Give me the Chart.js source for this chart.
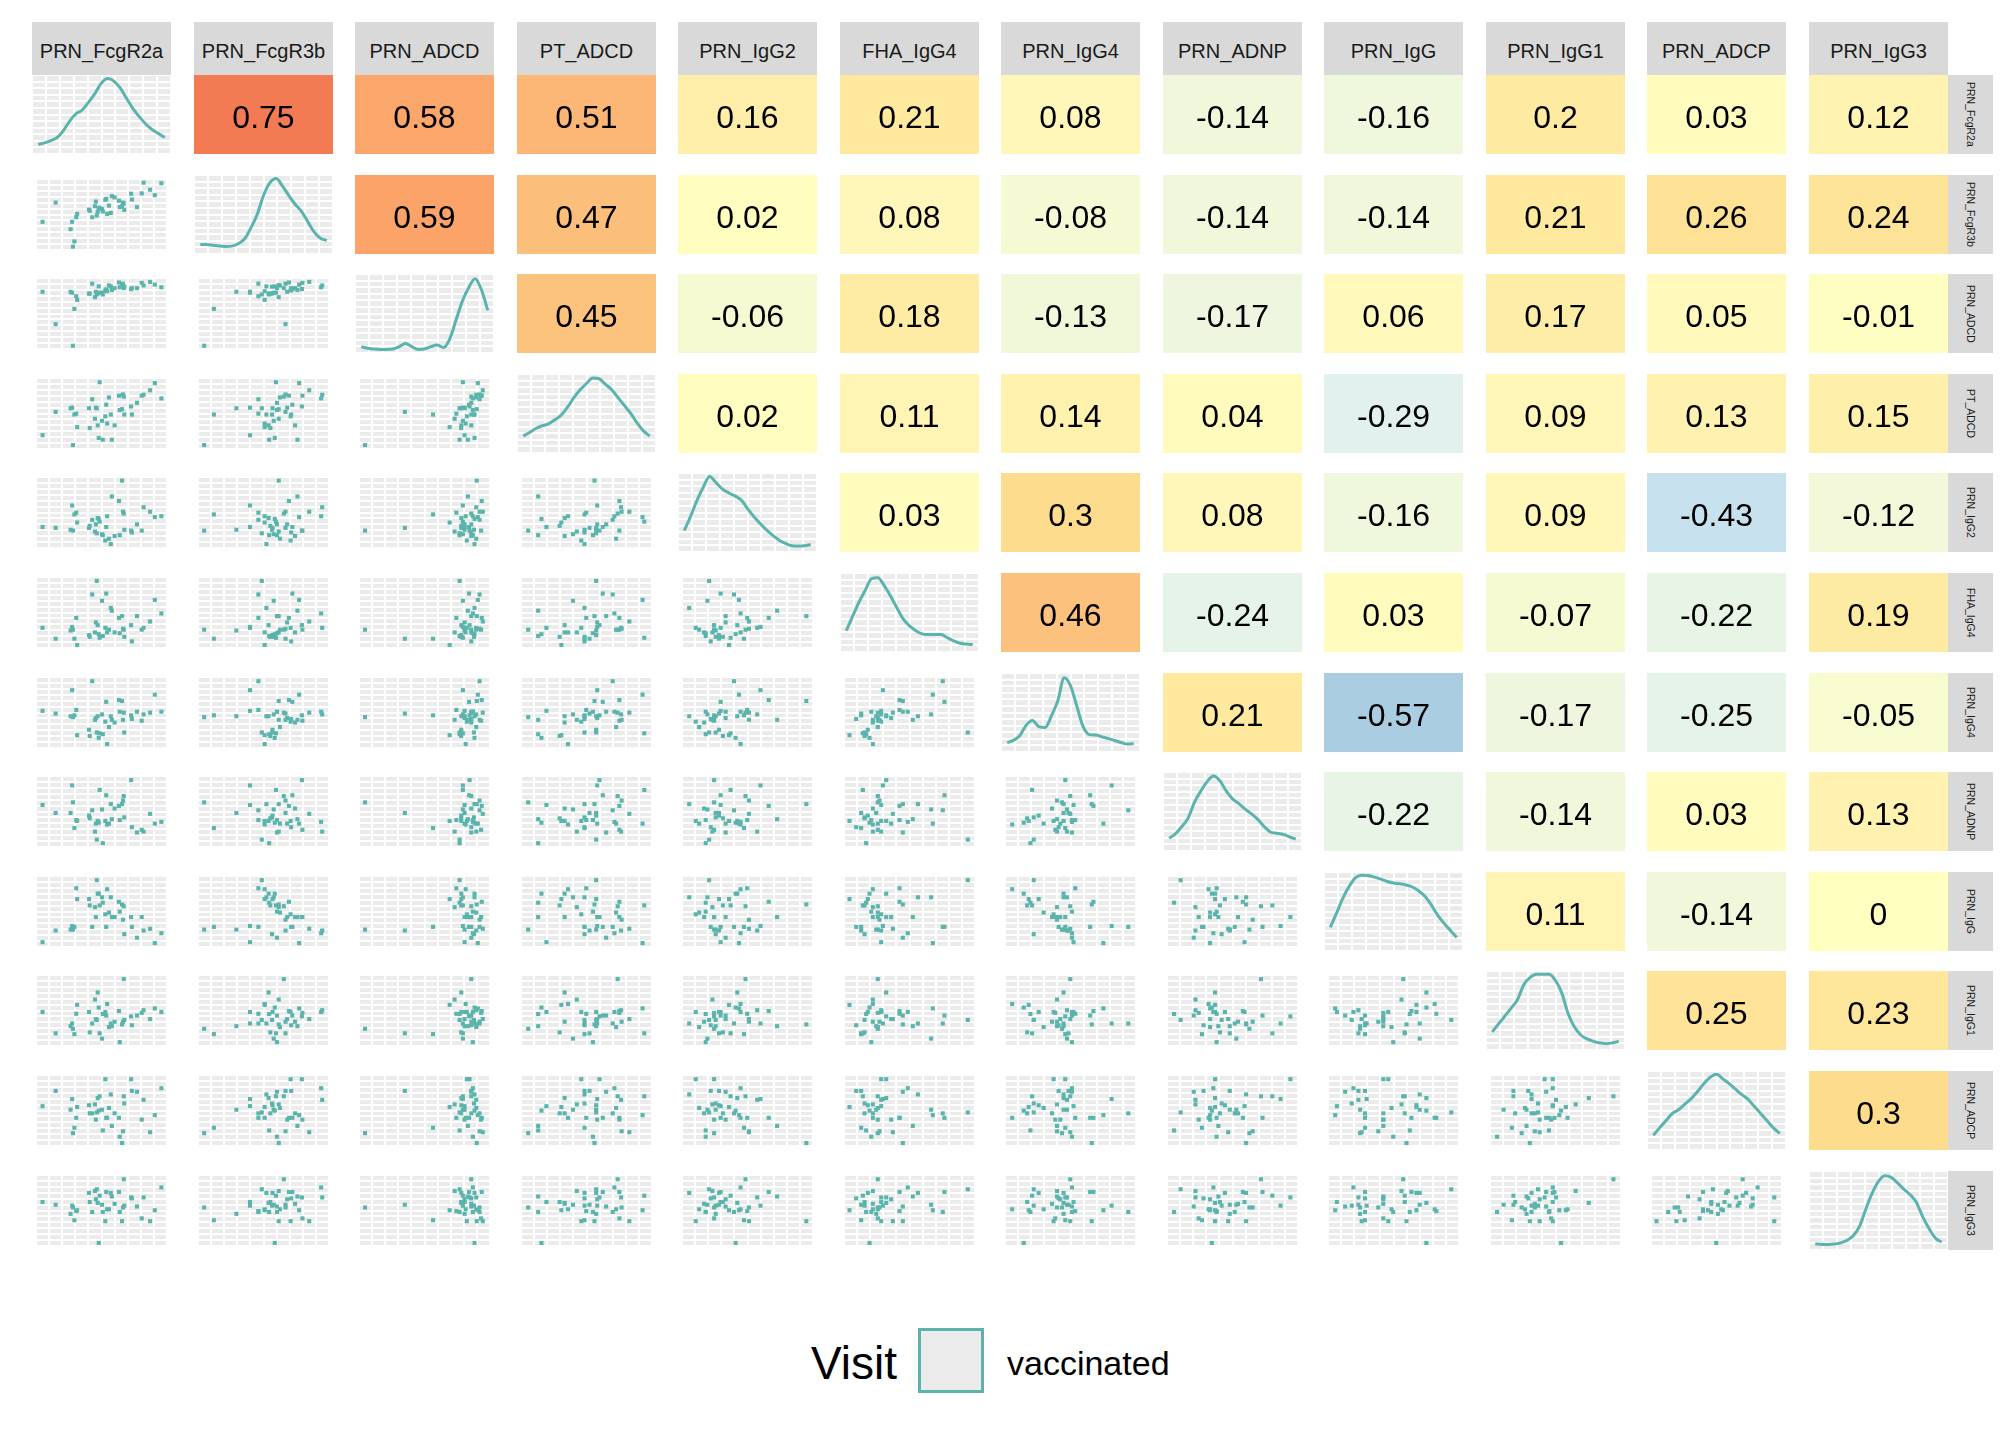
<!DOCTYPE html>
<html>
<head>
<meta charset="utf-8">
<script src="https://cdn.jsdelivr.net/npm/chart.js@4.4.1/dist/chart.umd.min.js"></script>
<style>
  body { margin: 0; background: #fff; font-family: "Liberation Sans", Arial, sans-serif; }
  #wrap { position: relative; width: 2016px; height: 1440px; overflow: hidden; background: #fff; }
  .cell { position: absolute; }
  .strip-top { position: absolute; background: #D9D9D9; color: #1A1A1A; font-size: 20px; box-sizing: border-box;
    padding-top: 6px; display: flex; align-items: center; justify-content: center; }
  .strip-right { position: absolute; background: #D9D9D9; color: #1A1A1A; font-size: 10.5px;
    display: flex; align-items: center; justify-content: center; }
  .strip-right span { writing-mode: vertical-rl; }
  .legend-title { position: absolute; left: 811px; top: 1335px; font-size: 46px; color: #000; line-height: 56px; }
  .legend-key { position: absolute; left: 918px; top: 1328px; width: 66px; height: 65px;
    box-sizing: border-box; border: 3px solid #5AB4AC; background: #EBEBEB; }
  .legend-label { position: absolute; left: 1007px; top: 1342px; font-size: 34px; color: #000; line-height: 42px; }
</style>
</head>
<body>
<div id="wrap"></div>
<script>
// variable names, in panel order
const variables = ["PRN_FcgR2a", "PRN_FcgR3b", "PRN_ADCD", "PT_ADCD", "PRN_IgG2", "FHA_IgG4",
  "PRN_IgG4", "PRN_ADNP", "PRN_IgG", "PRN_IgG1", "PRN_ADCP", "PRN_IgG3"];

const prnFcgR2a = [5, 15, 26.4, 27.6, 28.2, 29.3, 30.7, 31.4, 40.5, 41, 42.9, 45, 45.7, 46.4, 47.1, 47.9, 48.6, 50.4, 51, 52.9,
  53.6, 54.3, 55.7, 57.1, 57.9, 60, 63.3, 63.9, 65.7, 66.4, 67, 67.4, 72.6, 73.2, 77.1, 80.7, 82.1, 87.1, 90.7, 95.7];
const prnFcgR3b = [39.7, 66.8, 29.3, 39.7, 4.7, 12.1, 46.1, 50.9, 56.9, 55.2, 46.1, 61.6, 68.1, 48.7, 53.9, 58.6, 59.5, 57.8, 54.3, 70.7,
  72, 50.9, 62.5, 52.2, 75.9, 74.1, 69.4, 60.3, 61.6, 66.8, 65.5, 56.5, 79.3, 71.1, 60.3, 79.7, 94.8, 84.9, 77.2, 94];
const prnADCD = [80.6, 35, 80.6, 79.3, 4.6, 56.5, 74.3, 69.2, 78.1, 78, 92, 73, 80.6, 76.8, 78.1, 88.2, 79.3, 79.3, 76.8, 82.3,
  84, 81.4, 89.5, 88.2, 83.1, 85.7, 93.7, 86.9, 89.9, 92, 85.7, 87.8, 84.4, 85.7, 85.7, 93.2, 89.5, 94.5, 90.7, 86.9];
const ptADCD = [19.4, 52.3, 57.4, 58.2, 5.5, 48.5, 49.8, 30.8, 57.4, 29.5, 70, 42.6, 58.2, 57.4, 33.3, 15.6, 94.1, 39.7, 13.1, 46,
  62.4, 35.9, 72.6, 48.5, 13.1, 33.3, 75.1, 54.9, 56.1, 76.8, 73.8, 48.5, 59.9, 48.5, 65, 75.1, 76.4, 82.7, 92.8, 71.3];
const prnIgG2 = [29.5, 28.3, 25.7, 59.9, 24.5, 47.3, 49.8, 35.9, 28.3, 31.2, 39.7, 23.2, 33.3, 20.7, 42.2, 40.9, 37.1, 19.4, 18.1, 10.5,
  29.5, 44.7, 13.1, 5.5, 72.6, 16.9, 66.2, 18.1, 94.9, 51.1, 48.5, 25.7, 24.5, 21.9, 33.3, 24.5, 57.4, 51.1, 43.5, 44.7];
const fhaIgG4 = [28.4, 13.1, 24.6, 29.7, 25.8, 13.1, 42.4, 4.2, 18.2, 15.7, 75.4, 22, 36, 94.5, 32.2, 19.5, 14.4, 66.5, 16.9, 28.4,
  76.7, 22, 25.8, 56.4, 52.5, 22, 42.4, 20.8, 44.9, 27.1, 25.8, 15.7, 32.2, 9.3, 44.9, 25.8, 28.4, 37.3, 67.8, 48.7];
const prnIgG4 = [52.3, 48.5, 44.7, 81.4, 43.5, 46, 53.6, 18.1, 25.7, 16.9, 94.1, 39.7, 42.2, 21.9, 44.7, 14.3, 20.7, 47.3, 19.4, 37.1,
  65, 5.5, 29.5, 44.7, 39.7, 35.9, 67.5, 51.1, 66.2, 39.7, 49.8, 21.9, 46, 40.9, 51.1, 38.4, 47.3, 49.8, 75.1, 51.1];
const prnADNP = [59.2, 47.9, 47.9, 86.7, 62.9, 26.7, 37.9, 36.7, 44.2, 40.4, 51.7, 21.7, 32.9, 10.4, 36.7, 34.2, 80.4, 52.9, 5.4, 36.7,
  72.9, 31.7, 32.9, 60.4, 39.2, 54.2, 57.9, 37.9, 60.4, 65.4, 71.7, 41.7, 94.2, 27.9, 20.4, 24.2, 21.7, 46.7, 32.9, 35.4];
const prnIgG = [6.8, 23.2, 24.5, 29.5, 24.5, 28.3, 82.7, 67.5, 67.5, 58.6, 28.3, 56.1, 42.2, 94.1, 75.1, 75.1, 58.6, 70, 62.4, 46,
  28.3, 81.4, 48.5, 70, 42.2, 42.2, 63.7, 49.8, 59.9, 38.4, 57.4, 18.1, 42.2, 28.3, 13.1, 42.2, 23.2, 25.7, 5.5, 19.4];
const prnIgG1 = [47.9, 17.9, 27.9, 31.7, 24.2, 16.7, 45.4, 57.9, 47.9, 19.2, 31.7, 65.4, 37.9, 36.7, 75.4, 54.2, 17.9, 10.4, 45, 47.9,
  42.9, 59.2, 26.7, 31.7, 27.9, 34.2, 49.2, 5.4, 30.4, 34.2, 94.2, 36.7, 41.7, 29.2, 42.9, 46.7, 50.4, 37.9, 52.9, 47.9];
const prnADCP = [56.1, 77.6, 51.1, 66.2, 18.1, 25.7, 39.7, 54.9, 57.4, 46, 46, 58.6, 37.1, 47.3, 67.5, 49.8, 70, 51.1, 21.9, 94.1,
  39.7, 39.7, 53.6, 72.6, 28.3, 46, 39.7, 13.1, 4.2, 20.7, 70, 59.9, 94.1, 77.6, 76.4, 37.1, 65, 19.4, 43.5, 81.4];
const prnIgG3 = [62, 58.1, 45.3, 56.8, 54.3, 36.3, 49.1, 50.4, 74.8, 62, 47.9, 77.4, 65.8, 79.9, 60.7, 4.3, 70.9, 58.1, 47.9, 35,
  76.1, 51.7, 51.7, 74.8, 69.7, 59.4, 76.1, 47.9, 35, 54.3, 94, 56.8, 68.4, 67.1, 55.6, 38.9, 68.4, 35, 50.4, 82.5];

// density curves on the diagonal, heights (0..100 of panel height)
const densityX = [4.5, 9.05, 13.6, 18.15, 22.7, 27.25, 31.8, 36.35, 40.9, 45.45, 50, 54.55, 59.1, 63.65, 68.2, 72.75, 77.3, 81.85, 86.4, 90.95, 95.5];
const densFcgR2a = [12, 14, 17, 21, 30, 42, 51, 56, 66, 77, 90, 95.5, 92, 83, 70, 57, 47, 38, 31, 26, 21];
const densFcgR3b = [12, 12, 11, 10, 9.5, 10, 13, 19, 33, 50, 74, 90, 95.5, 86, 74, 63, 54, 41, 28, 20, 17];
const densPrnADCD = [8, 6, 5, 4.5, 4.5, 5, 8, 12, 8, 4.5, 5, 8, 10, 7, 18, 42, 66, 83, 94, 80, 54];
const densPtADCD = [21.5, 26, 31, 34.5, 37, 42, 48, 58, 70, 80, 88, 95, 94, 87, 80, 70, 60, 50, 38, 28, 21.5];
const densIgG2 = [27, 45, 65, 82, 95.5, 88, 80, 75, 71, 66, 55, 45, 36, 28, 21, 15, 11, 8, 7.5, 8, 9.5];
const densFhaIgG4 = [27, 45, 63, 78, 93, 94, 84, 71, 56, 42, 33, 27, 23, 22, 22, 22, 18, 14, 11, 10, 9.5];
const densIgG4 = [12, 15, 21, 34, 40, 32, 31, 46, 65, 94, 84, 58, 32, 22, 21.5, 19, 17, 14.5, 12, 10, 10.5];
const densADNP = [16, 22, 31, 42, 62, 76, 88, 95, 89, 76, 66, 60, 53, 47, 40, 31, 24, 22.5, 21, 18, 15];
const densIgG = [30, 48, 67, 82, 93, 96, 95.5, 93.5, 91, 88, 86, 85, 83.5, 81, 76, 69, 58, 45, 35, 26, 17];
const densIgG1 = [23, 33, 43, 53, 64, 83, 92, 96, 96, 96, 88, 72, 46, 29, 19, 14, 11, 9, 8, 9, 11];
const densADCP = [18.5, 28, 37, 46, 51, 58, 65, 74, 84, 92, 96, 90, 84, 77, 70, 64, 55, 46, 37, 28, 21];
const densIgG3 = [8, 7, 7, 7.5, 9, 12, 18, 30, 52, 72, 87, 94, 92, 85, 77, 70, 60, 42, 27, 15, 10];

// correlations shown in the upper triangle, row by row
const corrRows = [
  [0.75, 0.58, 0.51, 0.16, 0.21, 0.08, -0.14, -0.16, 0.2, 0.03, 0.12],
  [0.59, 0.47, 0.02, 0.08, -0.08, -0.14, -0.14, 0.21, 0.26, 0.24],
  [0.45, -0.06, 0.18, -0.13, -0.17, 0.06, 0.17, 0.05, -0.01],
  [0.02, 0.11, 0.14, 0.04, -0.29, 0.09, 0.13, 0.15],
  [0.03, 0.3, 0.08, -0.16, 0.09, -0.43, -0.12],
  [0.46, -0.24, 0.03, -0.07, -0.22, 0.19],
  [0.21, -0.57, -0.17, -0.25, -0.05],
  [-0.22, -0.14, 0.03, 0.13],
  [0.11, -0.14, 0],
  [0.25, 0.23],
  [0.3]
];

const observations = [prnFcgR2a, prnFcgR3b, prnADCD, ptADCD, prnIgG2, fhaIgG4, prnIgG4, prnADNP, prnIgG, prnIgG1, prnADCP, prnIgG3];
const densities = [densFcgR2a, densFcgR3b, densPrnADCD, densPtADCD, densIgG2, densFhaIgG4, densIgG4, densADNP, densIgG, densIgG1, densADCP, densIgG3];

// ---- layout / style ----
const PANEL_W = 139, PANEL_H = 79;
const colLeft = j => Math.round(32 + j * 161.5);
const rowTop = i => Math.round(75 + i * 99.6);
const TEAL = "#5AB4AC";
const FONT = '"Liberation Sans", Arial, sans-serif';

Chart.defaults.font.family = FONT;

// fill ramp for the correlation cells (blue - pale yellow - red), sampled from the figure
const rampStops = [
  [-1, [69, 117, 180]], [-0.57, [170, 205, 226]], [-0.43, [200, 225, 238]], [-0.29, [226, 241, 238]],
  [-0.22, [232, 244, 230]], [-0.15, [240, 247, 220]], [-0.06, [246, 250, 210]], [0, [255, 255, 192]],
  [0.08, [255, 247, 186]], [0.2, [254, 234, 161]], [0.3, [253, 220, 142]], [0.46, [252, 193, 125]],
  [0.58, [251, 166, 106]], [0.75, [243, 123, 83]], [1, [215, 48, 39]]
];
function corrColor(r) {
  let k = 0;
  while (k < rampStops.length - 2 && r > rampStops[k + 1][0]) k++;
  const [v0, a] = rampStops[k], [v1, b] = rampStops[k + 1];
  const f = Math.max(0, Math.min(1, (r - v0) / (v1 - v0)));
  const c = a.map((v, n) => Math.round(v + (b[n] - v) * f));
  return `rgb(${c[0]},${c[1]},${c[2]})`;
}

const panelBg = {
  id: "panelBg",
  beforeDraw(chart) {
    const { ctx, chartArea: a } = chart;
    ctx.save();
    ctx.fillStyle = "#EBEBEB";
    ctx.fillRect(a.left, a.top, a.right - a.left, a.bottom - a.top);
    ctx.restore();
  }
};

const corrText = {
  id: "corrText",
  afterDatasetsDraw(chart) {
    const { ctx, chartArea: a } = chart;
    const size = 32;
    ctx.save();
    ctx.fillStyle = "#000";
    ctx.font = `${size}px ${FONT}`;
    ctx.textAlign = "center";
    ctx.textBaseline = "alphabetic";
    ctx.fillText(chart.options.plugins.corrText.label, (a.left + a.right) / 2, (a.top + a.bottom) / 2 + size * 0.358 + 2);
    ctx.restore();
  }
};

const baseOptions = () => ({
  responsive: false,
  animation: false,
  events: [],
  devicePixelRatio: 1,
  layout: { padding: 0 },
  plugins: { legend: { display: false }, tooltip: { enabled: false } }
});

function gridAxis(lines) {
  return {
    type: "linear", min: 0, max: 100, display: true,
    ticks: { display: false },
    afterBuildTicks: s => { s.ticks = Array.from({ length: lines + 1 }, (_, k) => ({ value: k * 100 / lines })); },
    grid: { color: "#FFFFFF", lineWidth: 2, drawTicks: false },
    border: { display: false }
  };
}

const wrap = document.getElementById("wrap");

function makeCanvas(i, j) {
  const div = document.createElement("div");
  div.className = "cell";
  div.style.left = colLeft(j) + "px";
  div.style.top = rowTop(i) + "px";
  const cv = document.createElement("canvas");
  cv.width = PANEL_W; cv.height = PANEL_H;
  cv.style.width = PANEL_W + "px"; cv.style.height = PANEL_H + "px";
  div.appendChild(cv);
  wrap.appendChild(div);
  return cv;
}

// strips
variables.forEach((name, j) => {
  const s = document.createElement("div");
  s.className = "strip-top";
  s.style.left = colLeft(j) + "px";
  s.style.top = "22px";
  s.style.width = PANEL_W + "px";
  s.style.height = "53px";
  s.textContent = name;
  wrap.appendChild(s);

  const r = document.createElement("div");
  r.className = "strip-right";
  r.style.left = "1948px";
  r.style.top = rowTop(j) + "px";
  r.style.width = "45px";
  r.style.height = PANEL_H + "px";
  const sp = document.createElement("span");
  sp.textContent = name;
  r.appendChild(sp);
  wrap.appendChild(r);
});

// panels
for (let i = 0; i < variables.length; i++) {
  for (let j = 0; j < variables.length; j++) {
    const cv = makeCanvas(i, j);
    const opts = baseOptions();
    if (i > j) {
      // scatter: column variable on x, row variable on y
      const pts = observations[i].map((y, k) => ({ x: observations[j][k], y }));
      opts.scales = { x: gridAxis(10), y: gridAxis(12) };
      new Chart(cv, {
        type: "scatter",
        data: { datasets: [{ data: pts, pointStyle: "rect", pointRadius: 2.9, backgroundColor: TEAL, borderWidth: 0 }] },
        options: opts,
        plugins: [panelBg]
      });
    } else if (i === j) {
      const pts = densityX.map((x, k) => ({ x, y: densities[i][k] }));
      opts.scales = { x: gridAxis(10), y: gridAxis(12) };
      new Chart(cv, {
        type: "line",
        data: { datasets: [{ data: pts, borderColor: TEAL, borderWidth: 3, pointRadius: 0, fill: false,
          cubicInterpolationMode: "monotone" }] },
        options: opts,
        plugins: [panelBg]
      });
    } else {
      const r = corrRows[i][j - i - 1];
      opts.scales = { x: { display: false }, y: { display: false, min: 0, max: 1 } };
      opts.plugins.corrText = { label: String(r) };
      new Chart(cv, {
        type: "bar",
        data: { labels: [variables[j]], datasets: [{ data: [1], backgroundColor: corrColor(r), borderWidth: 0,
          barPercentage: 1, categoryPercentage: 1 }] },
        options: opts,
        plugins: [corrText]
      });
    }
  }
}

// legend
const lt = document.createElement("div");
lt.className = "legend-title"; lt.textContent = "Visit";
const lk = document.createElement("div");
lk.className = "legend-key";
const ll = document.createElement("div");
ll.className = "legend-label"; ll.textContent = "vaccinated";
wrap.appendChild(lt); wrap.appendChild(lk); wrap.appendChild(ll);
</script>
</body>
</html>
